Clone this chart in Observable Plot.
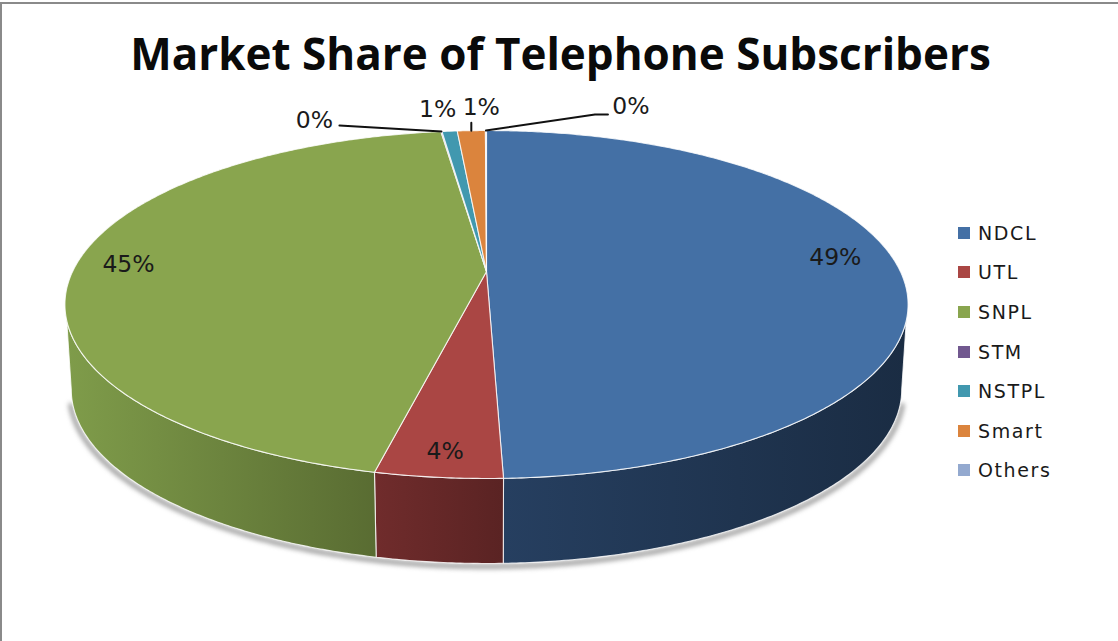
<!DOCTYPE html>
<html><head><meta charset="utf-8">
<script src="https://cdn.jsdelivr.net/npm/d3@7"></script>
<script src="https://cdn.jsdelivr.net/npm/@observablehq/plot@0.6"></script>
<style>
html,body{margin:0;padding:0;background:#fff;overflow:hidden}
#page{position:relative;width:1118px;height:641px;overflow:hidden}
#frame{position:absolute;left:0;top:2px;width:1118px;height:639px;box-sizing:border-box;border-top:2px solid #8a8a8a;border-left:2px solid #8a8a8a;pointer-events:none}
#title{position:absolute;left:0;top:23px;width:1118px;padding-left:3px;box-sizing:border-box;text-align:center;font:700 44px "Open Sans",sans-serif;line-height:60px;color:#0a0a0a;white-space:nowrap}
#legend{position:absolute;left:958px;top:213px;font:19px "DejaVu Sans",sans-serif;letter-spacing:1.6px;color:#1a1a1a}
#legend div{display:flex;align-items:center;height:39.6px;white-space:nowrap}
#legend i{display:block;width:12px;height:12px;margin-right:8px}
svg{position:absolute;left:0;top:0}
</style></head><body>
<div id="page"><div id="chart"></div><div id="title"></div><div id="legend"></div><div id="frame"></div></div>
<script>
const titleText = "Market Share of Telephone Subscribers";
const names = ["NDCL","UTL","SNPL","STM","NSTPL","Smart","Others"];
const shares = [49.47,4.07,44.37,0.05,0.7,1.29,0.05];
const printedLabels = ["49%","4%","45%","0%","1%","1%","0%"];
const colors = ["#4470a5","#aa4644","#89a54e","#71588f","#4198af","#db843d","#93a9cf"];
const wallLeft = ["#263f60","#702c2c","#7f9c4a","#4a3a5f","#2b6575","#915728","#617089"];
const wallRight = ["#1a2c43","#5a2323","#596c32","#3a2d4a","#214f5b","#71431f","#4c586b"];
// label placement: radial factor on the pie, then a nudge in pixels, optional leader bend
const labelR = [0.85,0.9,0.865,1,1,1,1];
const labelDx = [-2,1,-3,-127,-12,10,145];
const labelDy = [-12,-1,0,-11,-22,-23,-24];
const leaders = [null,null,null,[[-102,-6]],null,[[0,-8]],[[109,-16],[122,-16]]];

const W=1118,H=641;
const cx=486, cy=271, B=413.9, A=167.7, k=0.1897, depth=85, shrink=0.985;
const project=(deg,r=1)=>{
  const t=deg*Math.PI/180, u=r*Math.sin(t), v=-r*Math.cos(t), s=1/(1-k*v);
  return [cx+B*u*s, cy+A*v*s];
};
const lower=(deg)=>{
  const [x,y]=project(deg);
  return [cx+(x-cx)*shrink, y+depth];
};
const total=d3.sum(shares);
let acc=0;
const slices=names.map((name,i)=>{
  const a0=acc/total*360; acc+=shares[i]; const a1=acc/total*360;
  return {name,i,a0,a1,mid:(a0+a1)/2,share:shares[i]};
});
const arc=(a0,a1)=>{
  const n=Math.max(2,Math.ceil((a1-a0)/0.5)+1);
  return d3.range(n).map(j=>a0+(a1-a0)*j/(n-1));
};
const topPts=slices.flatMap(s=>{
  const pts=[[cx,cy],...arc(s.a0,s.a1).map(a=>project(a)),[cx,cy]];
  return pts.map(p=>({x:p[0],y:p[1],name:s.name,fill:colors[s.i]}));
});
// the upper rim of the wall emerges a little later than the lower rim
const lowerMin=90+Math.asin(k)*180/Math.PI, lowerMax=360-lowerMin;
const upperMin=106, upperMax=360-upperMin;
const wallPts=slices.flatMap(s=>{
  const a0=Math.max(s.a0,lowerMin), a1=Math.min(s.a1,lowerMax);
  if(a1<=a0) return [];
  const up=arc(Math.max(s.a0,upperMin),Math.min(s.a1,upperMax));
  const pts=[...up.map(a=>project(a)),...arc(a0,a1).reverse().map(a=>lower(a))];
  pts.push(pts[0]);
  return pts.map(p=>({x:p[0],y:p[1],name:s.name,fill:`url(#wall${s.i})`}));
});
const shadowPts=arc(lowerMin+4,lowerMax-4).map(lower).map(p=>({x:cx+(p[0]-cx)*1.004,y:p[1]+3}));
const labelData=slices.map((s,i)=>{
  const [x,y]=project(s.mid,labelR[i]);
  return {x:x+labelDx[i],y:y+labelDy[i],text:printedLabels[i]};
});
const leaderPts=slices.flatMap((s,i)=>{
  if(!leaders[i]) return [];
  const [x,y]=project(s.mid);
  return [[0,0],...leaders[i]].map(o=>({x:x+o[0],y:y+o[1],name:s.name}));
});
const defs=()=>{
  const d=d3.create("svg:defs");
  names.forEach((n,i)=>{
    const g=d.append("linearGradient").attr("id","wall"+i);
    g.append("stop").attr("offset",0).attr("stop-color",wallLeft[i]);
    g.append("stop").attr("offset",1).attr("stop-color",wallRight[i]);
  });
  return d.node();
};
const chart=Plot.plot({
  width:W,height:H,margin:0,
  style:{background:"transparent",overflow:"visible"},
  x:{domain:[0,W],range:[0,W],axis:null},
  y:{domain:[0,H],range:[0,H],axis:null},
  marks:[
    defs,
    Plot.line(shadowPts,{x:"x",y:"y",stroke:"#666",strokeWidth:4,strokeOpacity:0.75,imageFilter:"blur(2.5px)"}),
    Plot.line(wallPts,{x:"x",y:"y",z:"name",fill:{value:d=>d.fill,scale:null},stroke:"#fff",strokeWidth:1.1,strokeOpacity:0.8,curve:"linear"}),
    Plot.line(topPts,{x:"x",y:"y",z:"name",fill:{value:d=>d.fill,scale:null},stroke:"#fff",strokeWidth:1.1,strokeOpacity:0.8,curve:"linear"}),
    Plot.line(leaderPts,{x:"x",y:"y",z:"name",stroke:"#111",strokeWidth:2}),
    Plot.text(labelData,{x:"x",y:"y",text:"text",fontSize:23.5,fontFamily:"DejaVu Sans",fill:"#1a1a1a"})
  ]
});
document.getElementById("chart").append(chart);
document.getElementById("title").textContent=titleText;
const lg=document.getElementById("legend");
names.forEach((n,i)=>{
  const row=document.createElement("div");
  const sw=document.createElement("i"); sw.style.background=colors[i];
  const t=document.createElement("span"); t.textContent=n;
  row.append(sw,t); lg.append(row);
});
</script>
</body></html>
